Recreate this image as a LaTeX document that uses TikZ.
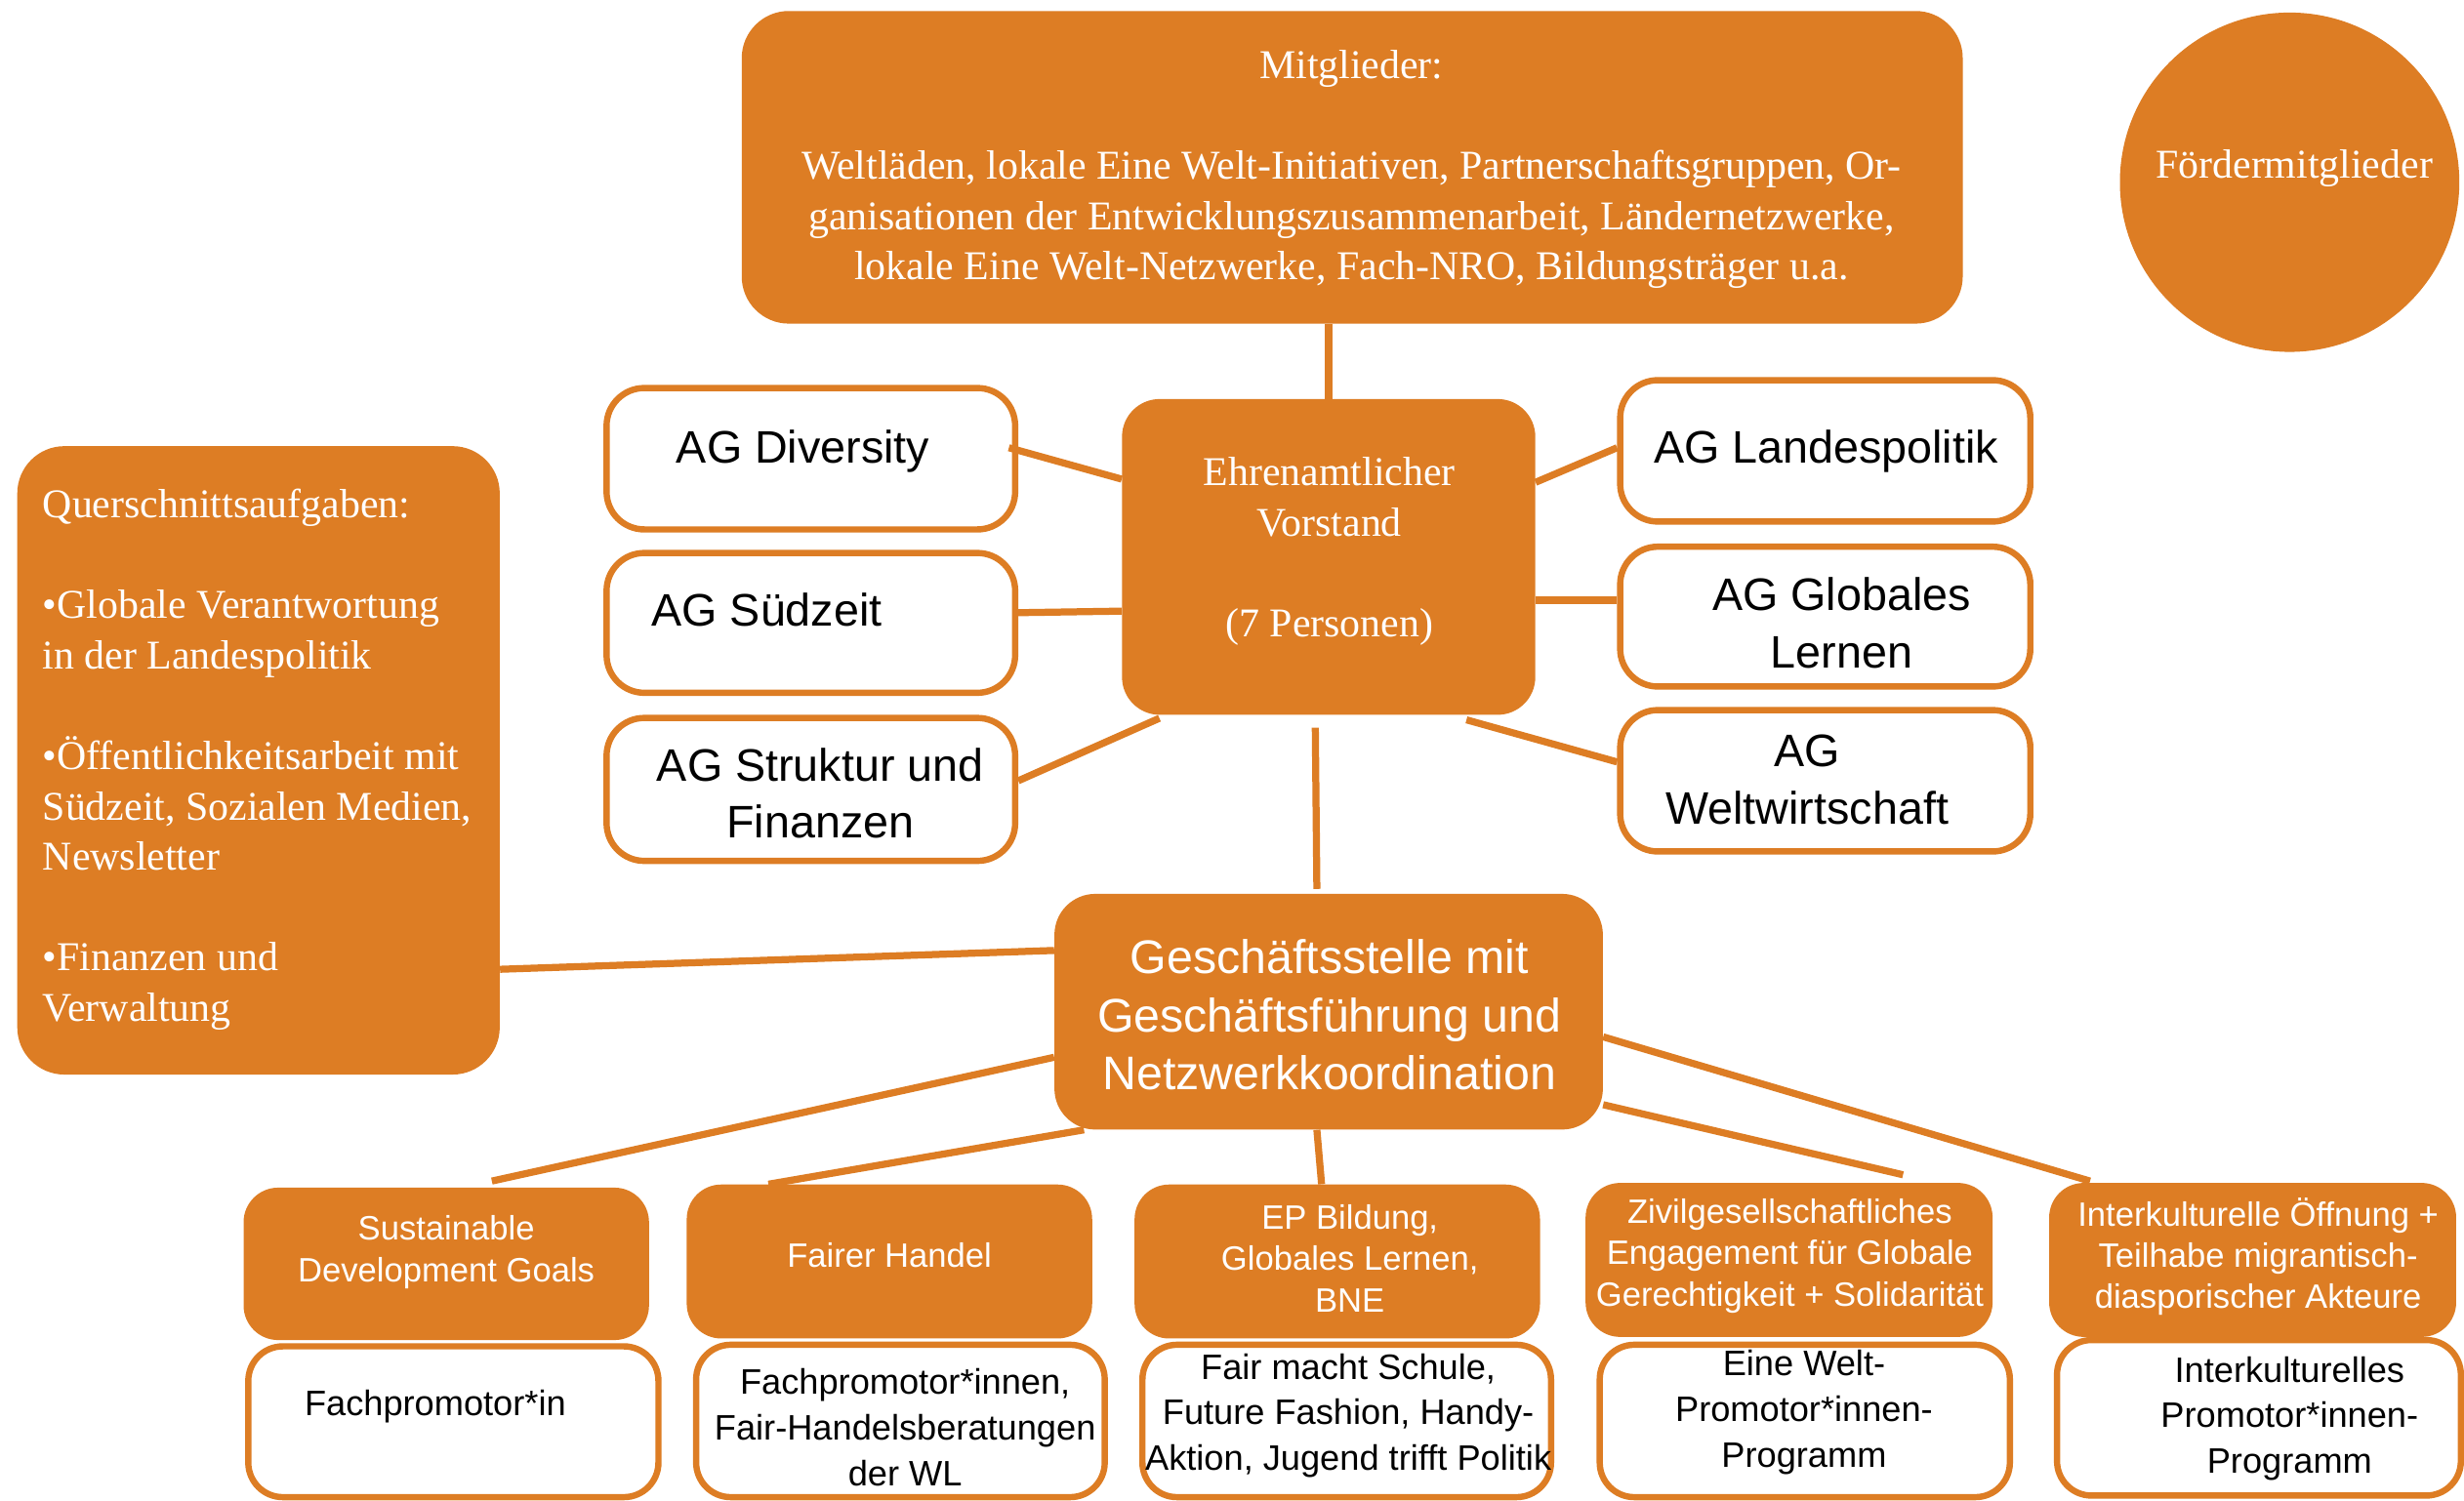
\documentclass[tikz,border=0pt]{standalone}
\usepackage{fontspec}
\setmainfont{Liberation Serif}
\newfontfamily\sansf{Liberation Sans}
\usetikzlibrary{calc}
\definecolor{org}{RGB}{221,125,36}
\tikzset{
  obox/.style={fill=org, draw=none, rounded corners=26pt, inner sep=0pt},
  wbox/.style={fill=white, draw=org, line width=4pt, rounded corners=24pt, inner sep=0pt},
  conn/.style={draw=org, line width=4.5pt},
  sertxt/.style={text=white, align=center, inner sep=0pt, font=\fontsize{26}{32}\selectfont},
  agtxt/.style={text=black, align=center, inner sep=0pt, font=\sansf\fontsize{29}{36.5}\selectfont},
  gestxt/.style={text=white, align=center, inner sep=0pt, font=\sansf\fontsize{30}{37}\selectfont},
  smtxt/.style={text=white, align=center, inner sep=0pt, font=\sansf\fontsize{21.5}{26.3}\selectfont},
  wtxt/.style={text=black, align=center, inner sep=0pt, font=\sansf\fontsize{22.5}{29}\selectfont},
}
\begin{document}
\begin{tikzpicture}[x=1pt,y=-1pt]
\useasboundingbox (0,0) rectangle (1568,955);
\fill[white] (0,0) rectangle (1568,955);

% Mitglieder
\node[obox, rounded corners=30pt, minimum width=777pt, minimum height=199pt] (mit) at (860.5,106.5) {};
\node[sertxt] (mittxt) at (860,108) {Mitglieder:\\[32pt]Weltläden, lokale Eine Welt-Initiativen, Partnerschaftsgruppen, Or-\\ganisationen der Entwicklungszusammenarbeit, Ländernetzwerke,\\lokale Eine Welt-Netzwerke, Fach-NRO, Bildungsträger u.a.};

% Foerdermitglieder
\node[circle, fill=org, minimum size=216pt, inner sep=0pt] (foe) at (1457,116) {};
\node[sertxt] (foetxt) at (1460,107) {Fördermitglieder};

% Vorstand
\node[obox, rounded corners=24pt, minimum width=263pt, minimum height=201pt] (vor) at (845.5,354.5) {};
\node[sertxt] (vortxt) at (846,351) {Ehrenamtlicher\\Vorstand\\[32pt](7 Personen)};

% AG boxes
\node[wbox, minimum width=260pt, minimum height=90pt] (agdiv) at (516,292) {};
\node[agtxt] (agdivtxt) at (511,287) {AG Diversity};
\node[wbox, minimum width=260pt, minimum height=89pt] (agsud) at (516,396.5) {};
\node[agtxt] (agsudtxt) at (488,388) {AG Südzeit};
\node[wbox, minimum width=260pt, minimum height=91pt] (agstr) at (516,502.5) {};
\node[agtxt] (agstrtxt) at (522,505) {AG Struktur und\\Finanzen};
\node[wbox, minimum width=261pt, minimum height=90pt] (aglan) at (1161.5,287) {};
\node[agtxt] (aglantxt) at (1162,287) {AG Landespolitik};
\node[wbox, minimum width=261pt, minimum height=89pt] (agglo) at (1161.5,392.5) {};
\node[agtxt] (agglotxt) at (1172,396.5) {AG Globales\\Lernen};
\node[wbox, minimum width=261pt, minimum height=90pt] (agwel) at (1161.5,497) {};
\node[agtxt] (agweltxt) at (1150,496.5) {AG\\Weltwirtschaft};

% Querschnitt
\node[obox, rounded corners=30pt, minimum width=307pt, minimum height=400pt] (quer) at (164.5,484) {};
\node[sertxt, align=left, anchor=west] (quertxt) at (27,483.5) {Querschnittsaufgaben:\\[32pt]•Globale Verantwortung\\in der Landespolitik\\[32pt]•Öffentlichkeitsarbeit mit\\Südzeit, Sozialen Medien,\\Newsletter\\[32pt]•Finanzen und\\Verwaltung};

% Geschaeftsstelle
\node[obox, rounded corners=26pt, minimum width=349pt, minimum height=150pt] (ges) at (845.5,644) {};
\node[gestxt] (gestxt) at (846,646) {Geschäftsstelle mit\\Geschäftsführung und\\Netzwerkkoordination};

% bottom orange boxes
\node[obox, rounded corners=22pt, minimum width=258pt, minimum height=97pt] (sdg) at (284,804.5) {};
\node[smtxt] (sdgtxt) at (284,797) {Sustainable\\Development Goals};
\node[obox, rounded corners=22pt, minimum width=258pt, minimum height=98pt] (fair) at (566,803) {};
\node[smtxt] (fairtxt) at (566,799) {Fairer Handel};
\node[obox, rounded corners=22pt, minimum width=258pt, minimum height=98pt] (ep) at (851,803) {};
\node[smtxt] (eptxt) at (859,801) {EP Bildung,\\Globales Lernen,\\BNE};
\node[obox, rounded corners=22pt, minimum width=259pt, minimum height=98pt] (ziv) at (1138.5,802) {};
\node[smtxt] (zivtxt) at (1139,799.5) {Zivilgesellschaftliches\\Engagement für Globale\\Gerechtigkeit + Solidarität};
\node[obox, rounded corners=22pt, minimum width=259pt, minimum height=98pt] (int) at (1433.5,802) {};
\node[smtxt] (inttxt) at (1437,800) {Interkulturelle Öffnung +\\Teilhabe migrantisch-\\diasporischer Akteure};

% bottom white boxes
\node[wbox, rounded corners=22pt, minimum width=261pt, minimum height=96pt] (fp1) at (288.5,905) {};
\node[wtxt] (fp1txt) at (277,895) {Fachpromotor*in};
\node[wbox, rounded corners=22pt, minimum width=260pt, minimum height=97pt] (fp2) at (573,904.5) {};
\node[wtxt] (fp2txt) at (576,908.5) {Fachpromotor*innen,\\Fair-Handelsberatungen\\der WL};
\node[wbox, rounded corners=22pt, minimum width=260pt, minimum height=97pt] (fp3) at (857,904.5) {};
\node[wtxt] (fp3txt) at (858,901) {Fair macht Schule,\\Future Fashion, Handy-\\Aktion, Jugend trifft Politik};
\node[wbox, rounded corners=22pt, minimum width=261pt, minimum height=97pt] (fp4) at (1148.5,904.5) {};
\node[wtxt] (fp4txt) at (1148,899) {Eine Welt-\\Promotor*innen-\\Programm};
\node[wbox, rounded corners=22pt, minimum width=257pt, minimum height=99pt] (fp5) at (1437.5,902.5) {};
\node[wtxt] (fp5txt) at (1457,903) {Interkulturelles\\Promotor*innen-\\Programm};

% connectors
\draw[conn] (vor.north) -- (vor.north |- mit.south);
\draw[conn] ($(agdiv.east)+(-6,-7)$) -- ($(vor.west)+(0,-49.5)$);
\draw[conn] ($(agsud.east)+(0,-6.5)$) -- ($(vor.west)+(0,34.5)$);
\draw[conn] ($(agstr.east)+(0,-5.5)$) -- ($(vor.south west)+(24,2)$);
\draw[conn] ($(vor.east)+(0,-47.5)$) -- ($(aglan.west)+(0,-2)$);
\draw[conn] ($(vor.east)+(0,27.5)$) -- ($(agglo.west)+(0,-10.5)$);
\draw[conn] ($(vor.south east)+(-44,3)$) -- ($(agwel.west)+(0,-12)$);
\draw[conn] ($(vor.south)+(-8.5,8)$) -- ($(ges.north)+(-7.5,-3)$);
\draw[conn] ($(quer.east)+(0,133)$) -- ($(ges.west)+(0,-39)$);
\draw[conn] ($(ges.west)+(0,29)$) -- ($(sdg.north)+(29,-4)$);
\draw[conn] ($(ges.south west)+(19,0)$) -- ($(fair.north)+(-77,0)$);
\draw[conn] ($(ges.south)+(-7.5,0)$) -- ($(ep.north)+(-10,0)$);
\draw[conn] ($(ges.south east)+(0,-16)$) -- ($(ziv.north)+(72.5,-5)$);
\draw[conn] ($(ges.east)+(0,16)$) -- ($(int.north)+(-103.5,-1)$);
\end{tikzpicture}
\end{document}
